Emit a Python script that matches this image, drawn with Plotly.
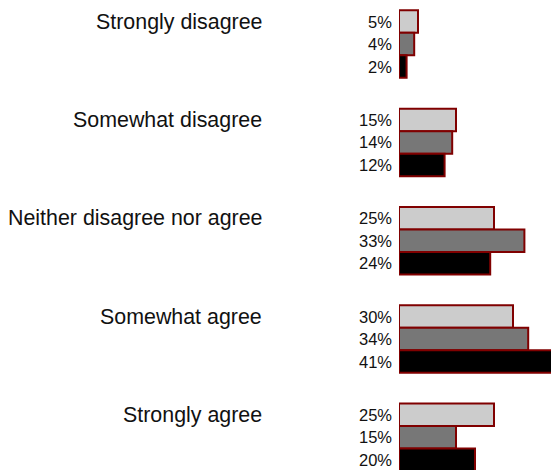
import plotly.graph_objects as go

categories = ["Strongly disagree", "Somewhat disagree", "Neither disagree nor agree",
              "Somewhat agree", "Strongly agree"]
series_a = [5, 15, 25, 30, 25]
series_b = [4, 14, 33, 34, 15]
series_c = [2, 12, 24, 41, 20]
series_values = [series_a, series_b, series_c]
series_colors = ["#cccccc", "#777777", "#000000"]

GROUP_STEP = 4.37
BAR_W = 1.0
FONT = "Liberation Sans, Arial, Helvetica, sans-serif"

fig = go.Figure()
annotations = []
for j, (vals, col) in enumerate(zip(series_values, series_colors)):
    ys = [i * GROUP_STEP + j for i in range(len(categories))]
    fig.add_trace(go.Bar(
        x=vals, y=ys, orientation="h", width=BAR_W,
        marker=dict(color=col, line=dict(color="#800000", width=2)),
        showlegend=False, hoverinfo="skip",
    ))
    for v, yv in zip(vals, ys):
        annotations.append(dict(
            x=0, xref="paper", y=yv, yref="y", text=f"{v}%", showarrow=False,
            xanchor="right", yanchor="middle", xshift=-5.5,
            font=dict(family=FONT, size=16.5, color="#111111"),
        ))

for i, cat in enumerate(categories):
    annotations.append(dict(
        x=0, xref="paper", y=i * GROUP_STEP, yref="y", text=cat, showarrow=False,
        xanchor="right", yanchor="middle", xshift=-135,
        font=dict(family=FONT, size=21.4, color="#111111"),
    ))

fig.update_layout(
    width=551, height=470,
    margin=dict(l=399, r=0, t=0, b=0),
    paper_bgcolor="white", plot_bgcolor="white",
    barmode="overlay",
    xaxis=dict(range=[0, 40], visible=False),
    yaxis=dict(range=[19.93, -0.958], visible=False),
    annotations=annotations,
)

fig.write_html(
    "out.html",
    config={"displayModeBar": False, "staticPlot": True},
    post_script="document.body.style.margin='0';document.body.style.overflow='hidden';",
)
